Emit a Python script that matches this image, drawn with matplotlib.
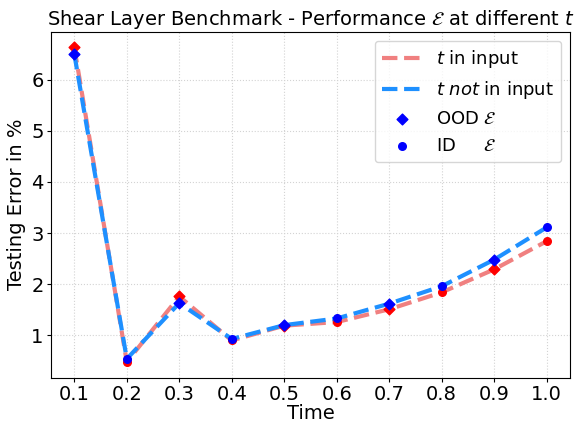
import matplotlib
matplotlib.use("Agg")
import matplotlib.pyplot as plt
import numpy as np

# Times and testing errors (%)
times = [0.1, 0.2, 0.3, 0.4, 0.5, 0.6, 0.7, 0.8, 0.9, 1.0]
err_t_in = [6.63, 0.48, 1.76, 0.90, 1.19, 1.26, 1.51, 1.84, 2.29, 2.84]
err_t_not = [6.50, 0.54, 1.63, 0.93, 1.20, 1.33, 1.62, 1.96, 2.48, 3.11]
ood_times = [0.1, 0.3, 0.5, 0.7, 0.9]
id_times = [0.2, 0.4, 0.6, 0.8, 1.0]

plt.rcParams['font.size'] = 14

fig, ax = plt.subplots(figsize=(5.76, 4.22), dpi=100)

ax.plot(times, err_t_in, '--', color='lightcoral', lw=3, label=r'$t$ in input', zorder=2)
ax.plot(times, err_t_not, '--', color='dodgerblue', lw=3, label=r'$t$ $\it{not}$ in input', zorder=3)

ood_idx = [times.index(t) for t in ood_times]
id_idx = [times.index(t) for t in id_times]

ax.scatter([times[i] for i in ood_idx], [err_t_in[i] for i in ood_idx], marker='D', color='red', s=30, zorder=4)
ax.scatter([times[i] for i in id_idx], [err_t_in[i] for i in id_idx], marker='o', color='red', s=30, zorder=4)
ax.scatter([times[i] for i in ood_idx], [err_t_not[i] for i in ood_idx], marker='D', color='blue', s=30, zorder=5,
           label=r'OOD $\mathcal{E}$')
ax.scatter([times[i] for i in id_idx], [err_t_not[i] for i in id_idx], marker='o', color='blue', s=30, zorder=5,
           label=r'ID     $\mathcal{E}$')

ax.set_xticks(times)
ax.tick_params(axis='both', length=3, pad=2)
ax.set_xlabel('Time', labelpad=0)
ax.set_ylabel('Testing Error in %', labelpad=4)
ax.set_title(r'Shear Layer Benchmark - Performance $\mathcal{E}$ at different $t$', fontsize=14, pad=5)
ax.grid(True, linestyle=':', color='lightgray')
ax.legend(loc='upper right', fontsize=13, handlelength=2.2)

fig.subplots_adjust(left=0.088, right=0.99, top=0.925, bottom=0.105)
fig.savefig('out.png', dpi=100)
